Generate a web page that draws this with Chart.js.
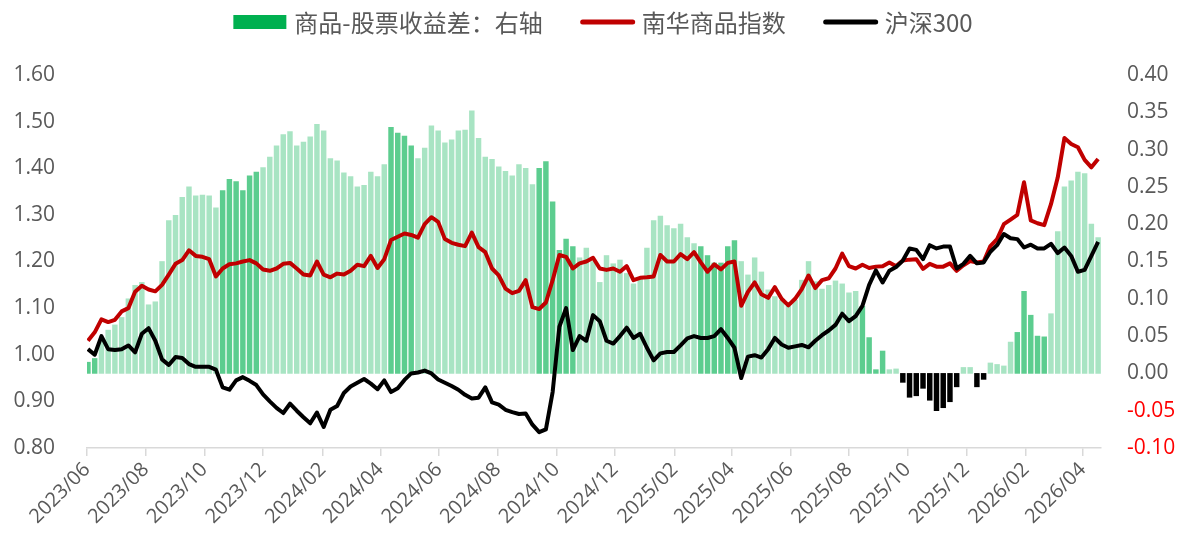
<!DOCTYPE html>
<html>
<head>
<meta charset="utf-8">
<script src="https://cdn.jsdelivr.net/npm/chart.js@4.4.1/dist/chart.umd.min.js"></script>
<style>
  html, body { margin: 0; padding: 0; background: #ffffff; }
  #wrap { width: 1181px; height: 548px; }
</style>
</head>
<body>
<div id="wrap"><canvas id="c" width="1181" height="548"></canvas></div>
<script>
// ---- data (weekly observations, first one on the Friday 2023-06-02) ----
const firstObs = '2023-06-02';
const axisStart = '2023-06-01';
const axisEnd = '2026-04-20';

const tickLabels = ['2023/06','2023/08','2023/10','2023/12','2024/02','2024/04','2024/06','2024/08','2024/10','2024/12',
                    '2025/02','2025/04','2025/06','2025/08','2025/10','2025/12','2026/02','2026/04'];

// 商品-股票收益差 (right axis)
const spread = [
  0.015,0.020,0.045,0.058,0.065,0.075,0.100,0.118,0.122,0.092,
  0.096,0.150,0.205,0.212,0.236,0.250,0.238,0.239,0.238,0.222,
  0.245,0.260,0.257,0.245,0.265,0.270,0.276,0.290,0.305,0.320,
  0.324,0.305,0.310,0.317,0.334,0.325,0.288,0.285,0.269,0.264,
  0.250,0.252,0.270,0.264,0.280,0.330,0.322,0.318,0.305,0.288,
  0.302,0.332,0.325,0.309,0.313,0.325,0.326,0.352,0.315,0.290,
  0.287,0.277,0.271,0.265,0.280,0.275,0.253,0.275,0.284,0.230,
  0.165,0.180,0.170,0.155,0.168,0.150,0.122,0.158,0.147,0.152,
  0.134,0.120,0.128,0.168,0.205,0.211,0.198,0.194,0.200,0.182,
  0.174,0.170,0.158,0.148,0.148,0.170,0.178,0.150,0.132,0.155,
  0.136,0.112,0.103,0.098,0.090,0.098,0.125,0.150,0.123,0.113,
  0.118,0.124,0.120,0.108,0.110,0.090,0.048,0.005,0.030,0.005,
  0.006,-0.012,-0.032,-0.030,-0.020,-0.036,-0.050,-0.046,-0.038,-0.018,
  0.008,0.008,-0.018,-0.008,0.014,0.012,0.010,0.042,0.055,0.110,
  0.078,0.050,0.049,0.080,0.190,0.250,0.258,0.270,0.268,0.200,0.182
];

// weeks shown in the darker green (signal periods)
const strongSignal = [
  1,1,0,0,0,0,0,0,0,0,
  0,0,0,0,0,0,0,0,0,0,
  1,1,1,1,1,1,0,0,0,0,
  0,0,0,0,0,0,0,0,0,0,
  0,0,0,0,0,1,1,1,1,0,
  0,0,0,0,0,0,0,0,0,0,
  0,0,0,0,0,0,0,1,1,1,
  1,1,1,0,0,0,0,0,0,0,
  0,0,0,0,0,0,0,0,0,0,
  0,1,1,1,1,1,1,0,0,0,
  0,0,0,0,0,0,0,0,0,0,
  0,0,0,0,0,1,1,1,1,0,
  0,0,0,0,0,0,0,0,0,0,
  0,0,0,0,0,0,0,0,1,1,
  1,1,1,0,0,0,0,0,0,0,0
];

// 南华商品指数 (left axis, normalised)
const nanhua = [
  1.030,1.048,1.076,1.070,1.075,1.093,1.100,1.135,1.148,1.140,
  1.136,1.150,1.172,1.195,1.203,1.224,1.212,1.210,1.205,1.168,
  1.185,1.194,1.196,1.200,1.203,1.196,1.183,1.180,1.185,1.195,
  1.197,1.185,1.172,1.170,1.200,1.172,1.166,1.174,1.172,1.180,
  1.193,1.190,1.212,1.186,1.205,1.246,1.253,1.260,1.257,1.251,
  1.280,1.295,1.285,1.248,1.240,1.236,1.233,1.262,1.231,1.220,
  1.185,1.170,1.142,1.132,1.137,1.160,1.102,1.098,1.112,1.160,
  1.214,1.210,1.185,1.196,1.200,1.208,1.185,1.182,1.185,1.178,
  1.190,1.160,1.165,1.166,1.168,1.214,1.200,1.200,1.216,1.205,
  1.220,1.198,1.178,1.194,1.183,1.197,1.200,1.105,1.135,1.155,
  1.130,1.122,1.145,1.120,1.106,1.120,1.141,1.170,1.143,1.160,
  1.164,1.185,1.217,1.190,1.185,1.193,1.186,1.189,1.190,1.198,
  1.190,1.202,1.204,1.205,1.184,1.195,1.189,1.189,1.196,1.180,
  1.192,1.201,1.198,1.200,1.233,1.248,1.280,1.290,1.300,1.370,
  1.288,1.282,1.278,1.323,1.380,1.465,1.452,1.445,1.418,1.402,1.420
];

// 沪深300 (left axis, normalised)
const hs300 = [
  1.012,1.000,1.040,1.012,1.010,1.012,1.020,1.005,1.045,1.057,
  1.030,0.990,0.978,0.995,0.993,0.980,0.974,0.974,0.974,0.968,
  0.930,0.925,0.945,0.952,0.944,0.935,0.915,0.900,0.886,0.875,
  0.895,0.880,0.866,0.853,0.876,0.845,0.882,0.890,0.918,0.932,
  0.940,0.948,0.938,0.926,0.945,0.920,0.928,0.946,0.960,0.962,
  0.966,0.960,0.947,0.940,0.933,0.925,0.914,0.906,0.908,0.930,
  0.898,0.893,0.882,0.877,0.873,0.874,0.850,0.834,0.840,0.920,
  1.060,1.100,1.010,1.040,1.030,1.085,1.072,1.030,1.024,1.040,
  1.058,1.036,1.045,1.015,0.988,1.003,1.006,1.006,1.020,1.035,
  1.040,1.036,1.036,1.040,1.055,1.036,1.015,0.950,0.996,0.999,
  0.994,1.012,1.036,1.022,1.015,1.018,1.021,1.016,1.030,1.042,
  1.052,1.064,1.088,1.072,1.083,1.105,1.150,1.181,1.155,1.180,
  1.188,1.202,1.228,1.225,1.205,1.235,1.228,1.232,1.232,1.185,
  1.195,1.212,1.196,1.198,1.221,1.235,1.259,1.250,1.248,1.230,
  1.236,1.228,1.228,1.238,1.218,1.230,1.212,1.178,1.182,1.212,1.242
];

// ---- helpers ----
const DAY = 86400000;
function dayOffset(str) {
  const p = str.split(/[-\/]/).map(Number);
  const t = Date.UTC(p[0], p[1] - 1, p[2] || 1);
  const s = axisStart.split('-').map(Number);
  return Math.round((t - Date.UTC(s[0], s[1] - 1, s[2])) / DAY);
}
const firstDay = dayOffset(firstObs);
const weekDay = spread.map((_, i) => firstDay + 7 * i);
const toPts = arr => arr.map((v, i) => ({ x: weekDay[i], y: v }));

const GREEN = '#00B050';
const LIGHT = 'rgba(0,176,80,0.34)';
const DARK = 'rgba(0,176,80,0.64)';
const GREY = '#595959';
const tickFont = { family: '"Open Sans", "Noto Sans", sans-serif', size: 21 };

// custom legend drawn on the canvas
const legendPlugin = {
  id: 'topLegend',
  afterDraw(chart) {
    const ctx = chart.ctx;
    const items = chart.data.datasets.map((ds, i) => ({
      text: ds.label,
      kind: i === 0 ? 'box' : 'line',
      color: i === 0 ? GREEN : ds.borderColor
    }));
    ctx.save();
    ctx.font = '24px "Noto Sans CJK SC", "Noto Sans", sans-serif';
    ctx.textBaseline = 'middle';
    const symW = 54, gapT = 7, gapI = 38;
    const widths = items.map(it => symW + gapT + ctx.measureText(it.text).width);
    const total = widths.reduce((a, b) => a + b, 0) + gapI * (items.length - 1);
    let x = 603 - total / 2;
    const y = 22;
    items.forEach((it, k) => {
      if (it.kind === 'box') {
        ctx.fillStyle = it.color;
        ctx.fillRect(x, y - 7, symW - 1, 14);
      } else {
        ctx.strokeStyle = it.color;
        ctx.lineWidth = 5;
        ctx.lineCap = 'round';
        ctx.beginPath();
        ctx.moveTo(x + 2, y);
        ctx.lineTo(x + symW - 2, y);
        ctx.stroke();
      }
      ctx.fillStyle = GREY;
      ctx.fillText(it.text, x + symW + gapT, y + 1);
      x += widths[k] + gapI;
    });
    ctx.restore();
  }
};

new Chart(document.getElementById('c'), {
  type: 'bar',
  data: {
    datasets: [
      {
        type: 'bar',
        label: '商品-股票收益差：右轴',
        data: toPts(spread),
        yAxisID: 'y1',
        xAxisID: 'x',
        backgroundColor: (c) => {
          const i = c.dataIndex;
          if (i === undefined) return LIGHT;
          if (spread[i] < 0) return '#000000';
          return strongSignal[i] ? DARK : LIGHT;
        },
        borderWidth: 0,
        barThickness: 4.8,
        grouped: false,
        order: 3
      },
      {
        type: 'line',
        label: '南华商品指数',
        data: toPts(nanhua),
        yAxisID: 'y',
        xAxisID: 'x',
        borderColor: '#C00000',
        backgroundColor: '#C00000',
        borderWidth: 4,
        pointRadius: 0,
        tension: 0,
        borderJoinStyle: 'round',
        order: 2
      },
      {
        type: 'line',
        label: '沪深300',
        data: toPts(hs300),
        yAxisID: 'y',
        xAxisID: 'x',
        borderColor: '#000000',
        backgroundColor: '#000000',
        borderWidth: 4,
        pointRadius: 0,
        tension: 0,
        borderJoinStyle: 'round',
        order: 1
      }
    ]
  },
  options: {
    responsive: false,
    animation: false,
    devicePixelRatio: 1,
    events: [],
    layout: { padding: { top: 75, left: 0, right: 0, bottom: 0 } },
    plugins: {
      legend: { display: false },
      tooltip: { enabled: false }
    },
    scales: {
      x: {
        type: 'linear',
        min: 0,
        max: dayOffset(axisEnd),
        offset: false,
        afterBuildTicks: (scale) => {
          scale.ticks = tickLabels.map(t => ({ value: dayOffset(t + '/01') }));
        },
        afterFit: (scale) => { scale.height = 100; },
        ticks: {
          autoSkip: false,
          minRotation: 45,
          maxRotation: 45,
          color: GREY,
          padding: 2,
          font: { family: tickFont.family, size: 20 },
          callback: (v, i) => tickLabels[i]
        },
        grid: {
          offset: false,
          drawOnChartArea: false,
          drawTicks: true,
          tickLength: 8,
          color: '#D9D9D9',
          lineWidth: 1.5
        },
        border: { display: true, color: '#D9D9D9', width: 1.5 }
      },
      y: {
        position: 'left',
        min: 0.8,
        max: 1.6,
        afterFit: (scale) => { scale.width = 87; },
        ticks: {
          stepSize: 0.1,
          color: GREY,
          padding: 32,
          font: tickFont,
          callback: (v) => Number(v).toFixed(2)
        },
        grid: { display: false, drawTicks: false },
        border: { display: false }
      },
      y1: {
        position: 'right',
        min: -0.1,
        max: 0.4,
        afterFit: (scale) => { scale.width = 80; },
        ticks: {
          stepSize: 0.05,
          padding: 26,
          font: tickFont,
          color: (c) => (c.tick && c.tick.value < -1e-9) ? '#FF0000' : GREY,
          callback: (v) => Number(v).toFixed(2)
        },
        grid: { display: false, drawTicks: false },
        border: { display: false }
      }
    }
  },
  plugins: [legendPlugin]
});
</script>
</body>
</html>
